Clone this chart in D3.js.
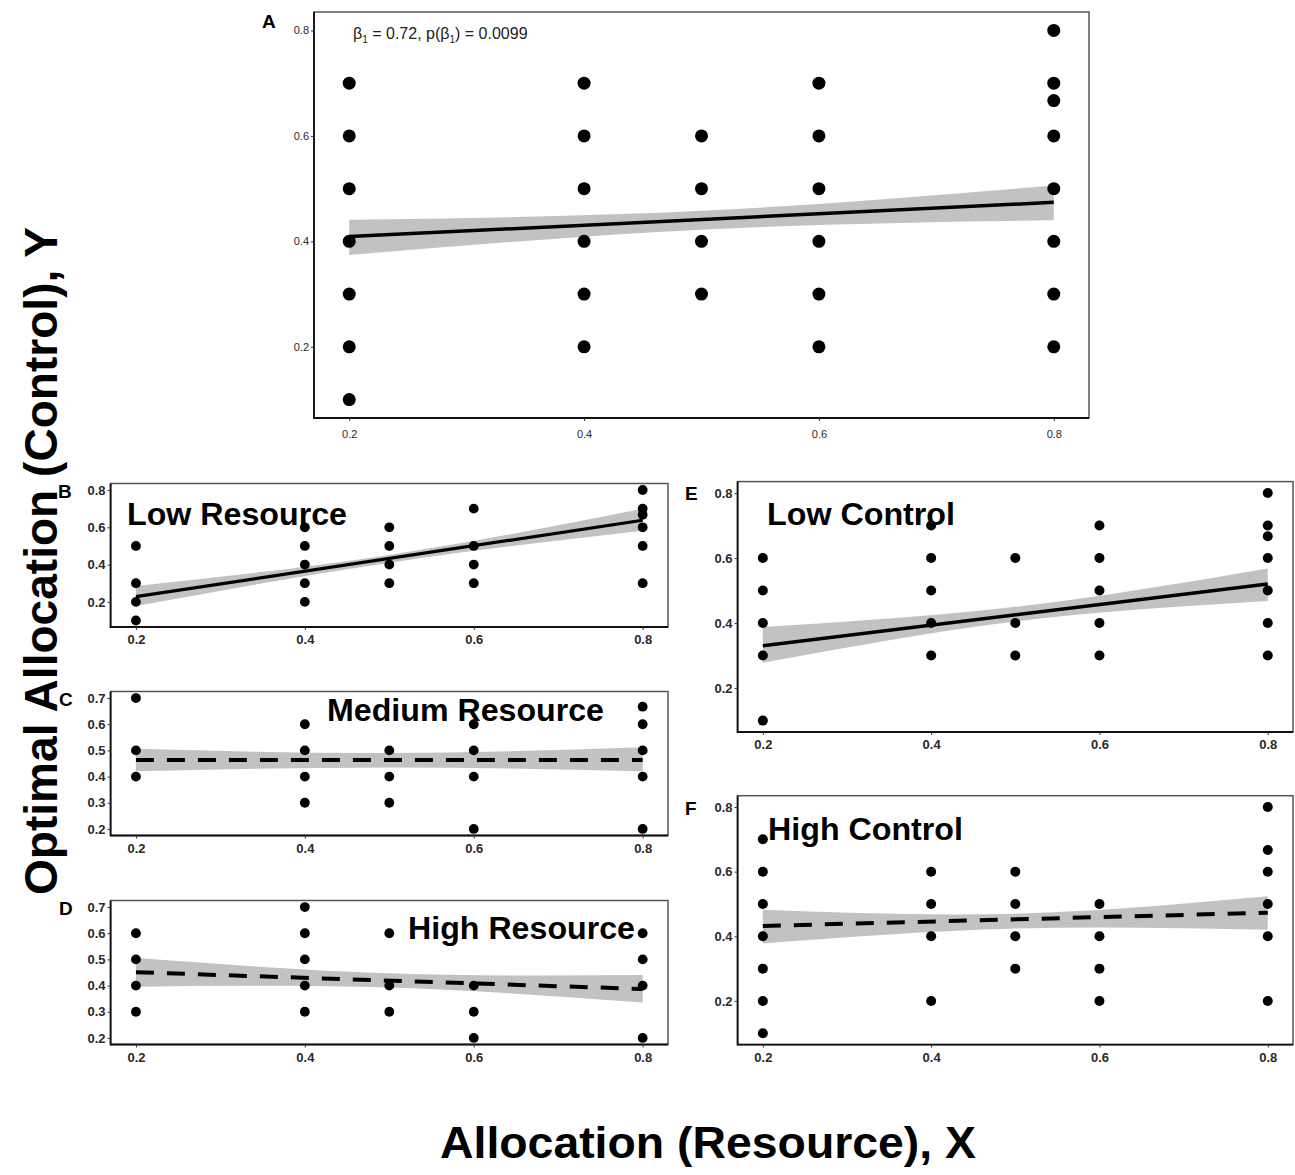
<!DOCTYPE html>
<html>
<head>
<meta charset="utf-8">
<script src="https://cdn.jsdelivr.net/npm/d3@7/dist/d3.min.js"></script>
<style>
  body { margin: 0; background: #fff; }
  svg { display: block; font-family: "Liberation Sans", Arial, sans-serif; }
</style>
</head>
<body>
<svg id="canvas" width="1295" height="1175"></svg>
<script>
'use strict';

/* x positions of the point columns and the axis ticks */
const xLevels = [0.2, 0.4, 0.5, 0.6, 0.8];
const xTicks = [0.2, 0.4, 0.6, 0.8];
/* x values where the fitted line and the confidence band were read */
const fitX = [0.2, 0.8];
const bandX = [0.2, 0.5, 0.8];

/* A: all data */
const ptsA = [[0.7, 0.6, 0.5, 0.4, 0.3, 0.2, 0.1], [0.7, 0.6, 0.5, 0.4, 0.3, 0.2],
  [0.6, 0.5, 0.4, 0.3], [0.7, 0.6, 0.5, 0.4, 0.3, 0.2], [0.8, 0.7, 0.667, 0.6, 0.5, 0.4, 0.3, 0.2]];
const fitA = [0.409, 0.474];
const loA = [0.374, 0.422, 0.440];
const hiA = [0.441, 0.458, 0.506];

/* B: low resource */
const ptsB = [[0.5, 0.3, 0.2, 0.1], [0.6, 0.5, 0.4, 0.3, 0.2], [0.6, 0.5, 0.4, 0.3],
  [0.7, 0.5, 0.4, 0.3], [0.8, 0.7, 0.667, 0.6, 0.5, 0.3]];
const fitB = [0.228, 0.638];
const loB = [0.178, 0.41, 0.582];
const hiB = [0.285, 0.452, 0.700];

/* C: medium resource */
const ptsC = [[0.7, 0.5, 0.4], [0.6, 0.5, 0.4, 0.3], [0.5, 0.4, 0.3],
  [0.6, 0.5, 0.4, 0.2], [0.667, 0.6, 0.5, 0.4, 0.2]];
const fitC = [0.463, 0.463];
const loC = [0.42, 0.435, 0.42];
const hiC = [0.506, 0.49, 0.512];

/* D: high resource */
const ptsD = [[0.6, 0.5, 0.4, 0.3], [0.7, 0.6, 0.5, 0.4, 0.3], [0.6, 0.4, 0.3],
  [0.4, 0.3, 0.2], [0.6, 0.5, 0.4, 0.2]];
const fitD = [0.451, 0.387];
const loD = [0.396, 0.393, 0.335];
const hiD = [0.505, 0.447, 0.44];

/* E: low control */
const ptsE = [[0.6, 0.5, 0.4, 0.3, 0.1], [0.7, 0.6, 0.5, 0.4, 0.3], [0.6, 0.4, 0.3],
  [0.7, 0.6, 0.5, 0.4, 0.3], [0.8, 0.7, 0.667, 0.6, 0.5, 0.4, 0.3]];
const fitE = [0.33, 0.52];
const loE = [0.278, 0.405, 0.468];
const hiE = [0.388, 0.45, 0.568];

/* F: high control */
const ptsF = [[0.7, 0.6, 0.5, 0.4, 0.3, 0.2, 0.1], [0.6, 0.5, 0.4, 0.2], [0.6, 0.5, 0.4, 0.3],
  [0.5, 0.4, 0.3, 0.2], [0.8, 0.667, 0.6, 0.5, 0.4, 0.2]];
const fitF = [0.432, 0.473];
const loF = [0.378, 0.424, 0.42];
const hiF = [0.482, 0.47, 0.524];

const svg = d3.select('svg#canvas');

/**
 * Draw one scatter panel with its fitted line and confidence band
 */
function panel(p){
  let g = svg.append('g').attr('class', 'panel');

  /* ggplot style expansion of 5% on both axes */
  let ext = d3.extent(p.pts.flat());
  let pad = (ext[1] - ext[0]) * 0.05;
  let x = d3.scaleLinear().domain([0.2 - 0.03, 0.8 + 0.03]).range([p.left, p.right]);
  let y = d3.scaleLinear().domain([ext[0] - pad, ext[1] + pad]).range([p.bottom, p.top]);

  /* confidence band */
  let band = d3.area()
    .x(function(d, i){ return x(bandX[i]); })
    .y0(function(d, i){ return y(p.lo[i]); })
    .y1(function(d, i){ return y(p.hi[i]); })
    .curve(d3.curveNatural);
  g.append('path')
    .datum(p.lo)
    .attr('d', band)
    .style('fill', '#c2c2c2');

  /* points, one column per x level */
  let pts = p.pts.reduce(function(prev, col, i){
    col.forEach(function(v){ prev.push({ x: xLevels[i], y: v }); });
    return prev;
  }, []);
  g.append('g').selectAll('circle')
    .data(pts)
    .enter().append('circle')
    .attr('cx', function(d){ return x(d.x); })
    .attr('cy', function(d){ return y(d.y); })
    .attr('r', p.r)
    .style('fill', '#000');

  /* fitted line */
  g.append('line')
    .attr('x1', x(fitX[0]))
    .attr('y1', y(p.fit[0]))
    .attr('x2', x(fitX[1]))
    .attr('y2', y(p.fit[1]))
    .style('stroke', '#000')
    .style('stroke-width', p.lw)
    .style('stroke-dasharray', p.dashed ? '18,13' : null);

  /* frame */
  g.append('rect')
    .attr('x', p.left).attr('y', p.top)
    .attr('width', p.right - p.left).attr('height', p.bottom - p.top)
    .style('fill', 'none').style('stroke', '#555').style('stroke-width', 1.5);
  g.append('path')
    .attr('d', `M${p.left},${p.top}V${p.bottom}H${p.right}`)
    .style('fill', 'none').style('stroke', '#111').style('stroke-width', 1.8);

  /* axes */
  let fmt = d3.format('.1f');
  let xa = g.append('g')
    .attr('transform', `translate(0,${p.bottom})`)
    .call(d3.axisBottom(x).tickValues(xTicks).tickSize(3).tickPadding(p.xpad).tickFormat(fmt));
  let ya = g.append('g')
    .attr('transform', `translate(${p.left},0)`)
    .call(d3.axisLeft(y).tickValues(p.yTicks).tickSize(3).tickPadding(2).tickFormat(fmt));
  [xa, ya].forEach(function(a){
    a.select('.domain').remove();
    a.selectAll('line').style('stroke', '#333');
    a.selectAll('text')
      .style('font-size', p.fs + 'px')
      .style('font-family', '"Liberation Sans", Arial, sans-serif')
      .style('font-weight', p.fw)
      .style('fill', '#2a2a2a');
  });

  /* panel letter */
  g.append('text')
    .attr('x', p.letterX).attr('y', p.letterY)
    .style('font-size', '19px').style('font-weight', 'bold')
    .text(p.letter);

  /* panel title */
  if(p.label){
    g.append('text')
      .attr('x', p.labelX).attr('y', p.labelY)
      .attr('textLength', p.labelW).attr('lengthAdjust', 'spacingAndGlyphs')
      .style('font-size', '31px').style('font-weight', 'bold')
      .text(p.label);
  }
  return g;
}

const tick2 = [0.2, 0.4, 0.6, 0.8];
const tick1 = [0.2, 0.3, 0.4, 0.5, 0.6, 0.7];

let gA = panel({ pts: ptsA, fit: fitA, lo: loA, hi: hiA, dashed: false,
  left: 314, right: 1089, top: 12, bottom: 418, yTicks: tick2,
  r: 6.5, lw: 3.5, fs: 11, fw: 'normal', xpad: 9, letter: 'A', letterX: 262, letterY: 28 });
panel({ pts: ptsB, fit: fitB, lo: loB, hi: hiB, dashed: false,
  left: 110.6, right: 668, top: 483.5, bottom: 627, yTicks: tick2,
  r: 4.9, lw: 3.2, fs: 13, fw: 'bold', xpad: 5, letter: 'B', letterX: 58, letterY: 498,
  label: 'Low Resource', labelX: 127, labelY: 525, labelW: 220 });
panel({ pts: ptsC, fit: fitC, lo: loC, hi: hiC, dashed: true,
  left: 110.6, right: 668, top: 691.5, bottom: 835.5, yTicks: tick1,
  r: 4.9, lw: 4, fs: 13, fw: 'bold', xpad: 5, letter: 'C', letterX: 59, letterY: 706,
  label: 'Medium Resource', labelX: 327, labelY: 721, labelW: 277 });
panel({ pts: ptsD, fit: fitD, lo: loD, hi: hiD, dashed: true,
  left: 110.6, right: 668, top: 900.5, bottom: 1044.5, yTicks: tick1,
  r: 4.9, lw: 4, fs: 13, fw: 'bold', xpad: 5, letter: 'D', letterX: 59, letterY: 915,
  label: 'High Resource', labelX: 408, labelY: 939, labelW: 227 });
panel({ pts: ptsE, fit: fitE, lo: loE, hi: hiE, dashed: false,
  left: 737.6, right: 1293, top: 481.6, bottom: 732, yTicks: tick2,
  r: 5, lw: 3.5, fs: 13, fw: 'bold', xpad: 5, letter: 'E', letterX: 685, letterY: 500,
  label: 'Low Control', labelX: 767, labelY: 525, labelW: 188 });
panel({ pts: ptsF, fit: fitF, lo: loF, hi: hiF, dashed: true,
  left: 737.6, right: 1293, top: 795.7, bottom: 1044.6, yTicks: tick2,
  r: 5, lw: 4, fs: 13, fw: 'bold', xpad: 5, letter: 'F', letterX: 685, letterY: 815,
  label: 'High Control', labelX: 768, labelY: 840, labelW: 195 });

/* annotation of panel A */
let ann = gA.append('text')
  .attr('x', 353).attr('y', 39)
  .style('font-size', '16px').style('fill', '#222');
ann.append('tspan').text('β');
ann.append('tspan').attr('dy', 4).style('font-size', '10px').text('1');
ann.append('tspan').attr('dy', -4).text(' = 0.72, p(β');
ann.append('tspan').attr('dy', 4).style('font-size', '10px').text('1');
ann.append('tspan').attr('dy', -4).text(') = 0.0099');

/* shared axis titles */
svg.append('text')
  .attr('transform', 'translate(57,561) rotate(-90)')
  .attr('text-anchor', 'middle')
  .attr('textLength', 668).attr('lengthAdjust', 'spacingAndGlyphs')
  .style('font-size', '46px').style('font-weight', 'bold')
  .text('Optimal Allocation (Control), Y');
svg.append('text')
  .attr('x', 708).attr('y', 1158)
  .attr('text-anchor', 'middle')
  .attr('textLength', 536).attr('lengthAdjust', 'spacingAndGlyphs')
  .style('font-size', '44px').style('font-weight', 'bold')
  .text('Allocation (Resource), X');
</script>
</body>
</html>
